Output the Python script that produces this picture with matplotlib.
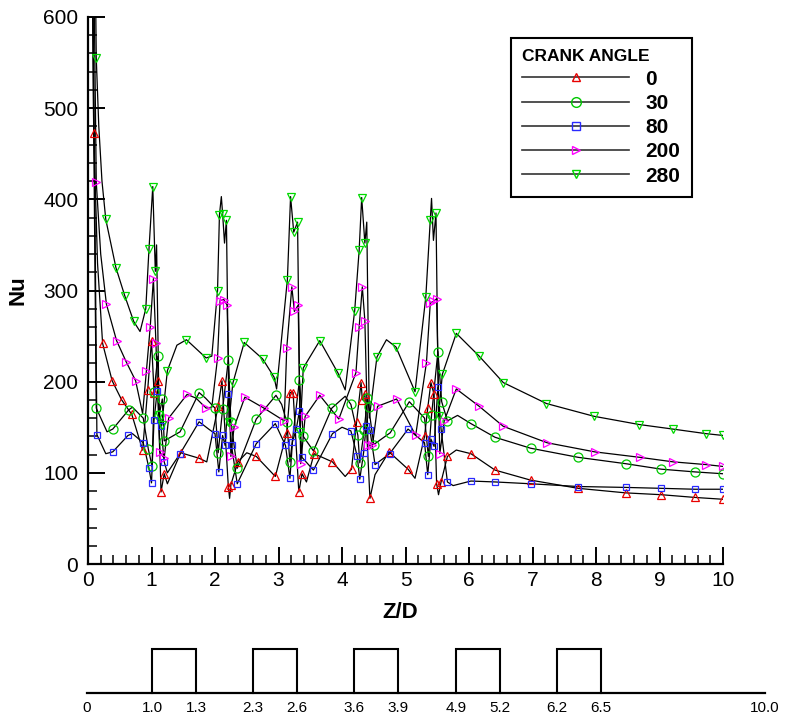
import numpy as np
import matplotlib
matplotlib.use("Agg")
import matplotlib.pyplot as plt
from matplotlib.ticker import MultipleLocator
from matplotlib.lines import Line2D

plt.rcParams['font.family'] = ['Liberation Sans', 'DejaVu Sans']

CRANK_ANGLES = ["0", "30", "80", "200", "280"]

# ---------------- data ----------------
# crank angle 0 : marked points
Z0_M = [0.09, 0.23, 0.38, 0.53, 0.69, 0.86, 0.94, 1.00, 1.04, 1.10, 1.15, 1.20, 1.46, 1.75,
        2.05, 2.11, 2.21, 2.25, 2.36, 2.65, 2.95, 3.13, 3.18, 3.23, 3.32, 3.37, 3.56, 3.85,
        4.15, 4.23, 4.30, 4.32, 4.36, 4.44, 4.74, 5.04, 5.30, 5.35, 5.40, 5.45, 5.49, 5.56,
        5.66, 6.03, 6.41, 6.97, 7.72, 8.47, 9.03, 9.56, 10.0]
NU0_M = [473, 242, 201, 180, 164, 125, 191, 245, 188, 201, 79, 99, 122, 116,
         173, 201, 85, 87, 112, 118, 96, 144, 188, 188, 79, 99, 121, 112,
         104, 156, 199, 180, 187, 72, 123, 104, 140, 171, 199, 186, 88, 90,
         118, 121, 103, 92, 83, 78, 76, 73, 71]
# crank angle 0 : other curve vertices
Z0_L = [0.02, 0.15, 1.25, 1.87, 2.23, 2.50, 3.44, 4.05, 4.52, 5.15, 5.52, 5.80]
NU0_L = [1200, 330, 88, 112, 72, 122, 90, 96, 98, 94, 76, 125]

# crank angle 30
Z30_M = [0.13, 0.39, 0.64, 0.87, 0.95, 1.01, 1.04, 1.10, 1.12, 1.17, 1.20, 1.45, 1.75,
         2.00, 2.05, 2.12, 2.21, 2.25, 2.35, 2.65, 2.96, 3.13, 3.18, 3.33, 3.39, 3.55,
         3.84, 4.14, 4.25, 4.28, 4.35, 4.40, 4.42, 4.50, 4.76, 5.06, 5.30, 5.36, 5.41,
         5.51, 5.57, 5.66, 6.03, 6.41, 6.97, 7.72, 8.47, 9.03, 9.56, 10.0]
NU30_M = [171, 148, 169, 160, 126, 107, 189, 228, 163, 181, 135, 145, 188,
          171, 122, 170, 224, 156, 105, 159, 185, 156, 112, 202, 140, 124,
          171, 175, 141, 111, 147, 182, 172, 131, 144, 178, 160, 118, 163,
          233, 178, 157, 154, 139, 127, 117, 110, 104, 101, 99]
Z30_L = [0.02, 0.30, 0.70, 1.85, 3.05, 4.05, 5.82]
NU30_L = [1000, 145, 172, 182, 175, 184, 163]

# crank angle 80
Z80_M = [0.14, 0.39, 0.63, 0.87, 0.96, 1.00, 1.04, 1.09, 1.15, 1.20, 1.45, 1.75, 2.00,
         2.06, 2.12, 2.16, 2.21, 2.26, 2.35, 2.65, 2.95, 3.11, 3.18, 3.22, 3.28, 3.33,
         3.37, 3.55, 3.85, 4.14, 4.24, 4.28, 4.34, 4.38, 4.44, 4.52, 4.75, 5.04, 5.30,
         5.35, 5.40, 5.45, 5.51, 5.56, 5.66, 6.03, 6.41, 6.97, 7.72, 8.47, 9.03, 9.56, 10.0]
NU80_M = [142, 123, 141, 133, 105, 89, 158, 190, 151, 112, 121, 156, 143,
          101, 141, 130, 187, 130, 88, 132, 154, 130, 94, 134, 148, 168,
          117, 103, 143, 146, 118, 93, 122, 151, 147, 109, 121, 148, 133,
          98, 137, 129, 194, 148, 90, 91, 90, 88, 85, 84, 83, 82, 82]
Z80_L = [0.02, 0.28, 0.70, 1.25, 1.90, 4.00, 5.75]
NU80_L = [1100, 121, 143, 100, 148, 150, 86]

# crank angle 200
Z200_M = [0.13, 0.29, 0.45, 0.60, 0.75, 0.92, 0.98, 1.03, 1.07, 1.13, 1.20, 1.27, 1.56,
          1.86, 2.04, 2.08, 2.14, 2.19, 2.25, 2.30, 2.47, 2.77, 3.09, 3.13, 3.21, 3.25,
          3.31, 3.35, 3.42, 3.65, 3.95, 4.22, 4.27, 4.32, 4.36, 4.41, 4.48, 4.56, 4.86,
          5.16, 5.33, 5.39, 5.44, 5.49, 5.54, 5.61, 5.80, 6.16, 6.54, 7.23, 7.98, 8.69,
          9.22, 9.74, 10.0]
NU200_M = [419, 285, 245, 222, 201, 212, 260, 313, 242, 123, 116, 160, 186,
           171, 226, 289, 290, 284, 118, 150, 183, 171, 157, 237, 304, 277,
           284, 110, 162, 185, 159, 210, 260, 304, 267, 130, 130, 173, 181,
           141, 221, 286, 288, 291, 121, 157, 192, 173, 151, 133, 123, 117,
           112, 109, 107]
Z200_L = [0.02, 0.20, 0.86, 1.70, 1.95]
NU200_L = [1100, 340, 165, 182, 172]

# crank angle 280
Z280_M = [0.13, 0.28, 0.44, 0.58, 0.72, 0.91, 0.96, 1.02, 1.06, 1.12, 1.16, 1.25, 1.55,
          1.86, 2.04, 2.07, 2.12, 2.18, 2.22, 2.28, 2.46, 2.75, 2.93, 3.14, 3.19, 3.24,
          3.30, 3.34, 3.39, 3.65, 3.94, 4.20, 4.27, 4.31, 4.36, 4.55, 4.85, 5.15, 5.32,
          5.39, 5.48, 5.52, 5.58, 5.80, 6.16, 6.54, 7.22, 7.97, 8.68, 9.21, 9.73, 10.0]
NU280_M = [555, 378, 325, 294, 266, 280, 345, 414, 321, 163, 152, 212, 246,
           226, 300, 383, 384, 377, 156, 198, 243, 225, 205, 312, 403, 364,
           375, 145, 215, 245, 209, 278, 344, 402, 352, 227, 238, 189, 293,
           377, 385, 162, 208, 253, 228, 199, 176, 162, 153, 148, 143, 141]
Z280_L = [0.02, 0.17, 0.22, 0.82, 1.08, 1.40, 1.95, 2.10, 2.15, 2.97, 4.05, 4.39,
          4.43, 4.70, 5.41, 5.44]
NU280_L = [1300, 480, 420, 255, 350, 240, 228, 403, 352, 192, 191, 375,
           160, 246, 401, 355]

# geometry sketch (rib edges in Z/D)
RIB_START = [1.0, 2.3, 3.6, 4.9, 6.2]
RIB_WIDTH = 0.3
DUCT_LENGTH = 10.0

# ---------------- figure ----------------
W, H = 786, 723
fig = plt.figure(figsize=(W / 100, H / 100), dpi=100)
ax = fig.add_axes([88 / W, 1 - 564 / H, (723 - 88) / W, (564 - 17) / H])

series = [
    (Z0_M, NU0_M, Z0_L, NU0_L, '^', '#e80000', 5.5),
    (Z30_M, NU30_M, Z30_L, NU30_L, 'o', '#00c800', 6.5),
    (Z80_M, NU80_M, Z80_L, NU80_L, 's', '#2a2aff', 5.0),
    (Z200_M, NU200_M, Z200_L, NU200_L, '>', '#ff00ff', 5.5),
    (Z280_M, NU280_M, Z280_L, NU280_L, 'v', '#00d800', 5.5),
]

handles = []
for zm, nm, zl, nl, mk, col, ms in series:
    zz = np.concatenate([np.asarray(zm, float), np.asarray(zl, float)])
    nn = np.concatenate([np.asarray(nm, float), np.asarray(nl, float)])
    order = np.argsort(zz, kind='stable')
    ax.plot(zz[order], nn[order], color='black', lw=0.9, zorder=2)
    ax.plot(zm, nm, ls='none', marker=mk, mfc='none', mec=col, ms=ms, mew=0.9, zorder=3)
    handles.append(Line2D([], [], color='#333333', lw=1.2, marker=mk, mfc='none',
                          mec=col, ms=ms + 0.5, mew=1.0))

ax.set_xlim(0, 10)
ax.set_ylim(0, 600)
ax.xaxis.set_major_locator(MultipleLocator(1))
ax.xaxis.set_minor_locator(MultipleLocator(0.2))
ax.yaxis.set_major_locator(MultipleLocator(100))
ax.yaxis.set_minor_locator(MultipleLocator(20))
for s in ['top', 'right']:
    ax.spines[s].set_visible(False)
for s in ['left', 'bottom']:
    ax.spines[s].set_linewidth(1.6)
ax.tick_params(which='major', direction='in', length=12, width=1.4, labelsize=15)
ax.tick_params(axis='y', which='major', pad=7)
ax.tick_params(axis='x', which='major', pad=5)
ax.tick_params(which='minor', direction='in', length=6.5, width=1.1)

fig.text(18 / W, 1 - 290 / H, 'Nu', rotation=90, fontsize=16, fontweight='bold',
         ha='center', va='center')
fig.text(400 / W, 1 - 612 / H, 'Z/D', fontsize=16, fontweight='bold',
         ha='center', va='center')

leg = ax.legend(handles, CRANK_ANGLES, title='CRANK ANGLE', loc='upper left',
                bbox_to_anchor=(511 / W, 1 - 38 / H), bbox_transform=fig.transFigure,
                frameon=True, fancybox=False, edgecolor='black', framealpha=1,
                prop={'weight': 'bold', 'size': 15},
                title_fontproperties={'weight': 'bold', 'size': 12.5},
                alignment='left', handlelength=5.1, handletextpad=0.8,
                labelspacing=0.25, borderpad=0.55, borderaxespad=0)
leg.get_frame().set_linewidth(1.5)

# ---------------- geometry sketch ----------------
SK_Z = [0.0] + [v for s in RIB_START for v in (s, s + RIB_WIDTH)] + [DUCT_LENGTH]
SK_PX = [87, 152, 196, 253, 297, 354, 398, 456, 500, 557, 601, 765]


def fwd(z):
    return np.interp(z, SK_Z, SK_PX)


def inv(p):
    return np.interp(p, SK_PX, SK_Z)


sax = fig.add_axes([87 / W, 1 - 693 / H, (765 - 87) / W, (693 - 649) / H])
sax.set_xscale('function', functions=(fwd, inv))
sax.set_xlim(0, DUCT_LENGTH)
sax.set_ylim(0, 1)
for s in RIB_START:
    sax.plot([s, s, s + RIB_WIDTH, s + RIB_WIDTH], [0, 1, 1, 0], color='black',
             lw=1.5, clip_on=False, solid_joinstyle='miter')
for s in ['top', 'right', 'left']:
    sax.spines[s].set_visible(False)
sax.spines['bottom'].set_linewidth(1.6)
sax.set_yticks([])
sax.set_xticks(SK_Z)
sax.set_xticklabels(['0'] + [f'{v:.1f}' for v in SK_Z[1:]])
sax.tick_params(axis='x', length=0, pad=6, labelsize=11)
sax.xaxis.set_minor_locator(plt.NullLocator())
sax.patch.set_visible(False)

fig.savefig('out.png', dpi=100)
